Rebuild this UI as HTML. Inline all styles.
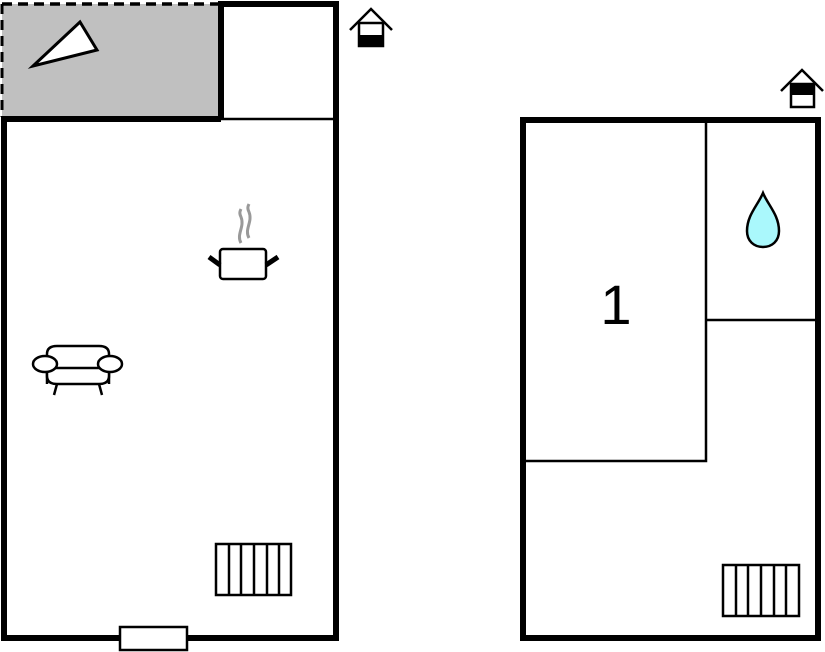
<!DOCTYPE html>
<html><head><meta charset="utf-8"><style>html,body{margin:0;padding:0;background:#fff}svg{display:block}</style></head>
<body>
<svg width="825" height="652" viewBox="0 0 825 652" xmlns="http://www.w3.org/2000/svg">
<rect x="2" y="4" width="220" height="115" fill="#c0c0c0"/>
<line x1="2" y1="4" x2="221" y2="4" stroke="#000" stroke-width="3.5" stroke-dasharray="10,6"/>
<line x1="2" y1="4" x2="2" y2="117" stroke="#000" stroke-width="3" stroke-dasharray="10,6"/>
<polygon points="33,66 80,22 97,50" fill="#fff" stroke="#000" stroke-width="3" stroke-linejoin="miter"/>
<g stroke="#000" stroke-width="6" fill="none">
<polyline points="221,119 221,4 336,4 336,638 4,638 4,119 221,119"/>
</g>
<line x1="221" y1="119" x2="336" y2="119" stroke="#000" stroke-width="2.5"/>
<rect x="120" y="627" width="67" height="23" fill="#fff" stroke="#000" stroke-width="2.5"/>
<g fill="#fff" stroke="#000" stroke-width="2.5">
<rect x="216" y="544" width="75" height="51"/>
<line x1="229" y1="544" x2="229" y2="595"/><line x1="241" y1="544" x2="241" y2="595"/>
<line x1="254" y1="544" x2="254" y2="595"/><line x1="267" y1="544" x2="267" y2="595"/>
<line x1="279" y1="544" x2="279" y2="595"/>
</g>
<path d="M241,243 c-5,-9 4,-16 0,-26 c-2,-4 -1,-6 0,-8 M249,238 c-5,-9 4,-16 0,-26 c-2,-4 -1,-6 0,-8" stroke="#999" stroke-width="3" fill="none"/>
<rect x="220" y="249" width="46" height="30" rx="3" fill="#fff" stroke="#000" stroke-width="2.5"/>
<line x1="209" y1="257" x2="220" y2="265" stroke="#000" stroke-width="5"/>
<line x1="266" y1="265" x2="278" y2="257" stroke="#000" stroke-width="5"/>
<g fill="#fff" stroke="#000" stroke-width="2.5">
<path d="M47,384 v-30 q0,-8 10,-8 h42 q10,0 10,8 v30"/>
<path d="M47,368 v8 q0,8 10,8 h42 q10,0 10,-8 v-8"/>
<line x1="53" y1="368" x2="103" y2="368"/>
<ellipse cx="45" cy="364" rx="12" ry="8"/>
<ellipse cx="110" cy="364" rx="12" ry="8"/>
<line x1="57" y1="384" x2="54" y2="395"/><line x1="99" y1="384" x2="102" y2="395"/>
</g>
<polyline points="350,30 371,9 392,30" fill="none" stroke="#000" stroke-width="2.5"/>
<rect x="359" y="23" width="24" height="23" fill="#fff" stroke="#000" stroke-width="2.5"/>
<rect x="359" y="35" width="24" height="12" fill="#000"/>
<rect x="523" y="120" width="295" height="518" fill="none" stroke="#000" stroke-width="6"/>
<g stroke="#000" stroke-width="2.5" fill="none">
<polyline points="523,461 706,461 706,120"/>
<line x1="706" y1="320" x2="818" y2="320"/>
</g>
<text x="616" y="324" font-family="Liberation Sans, sans-serif" font-size="56" text-anchor="middle" fill="#000">1</text>
<path d="M763,193 C758,205 747,215 747,231 C747,241 754,247 763,247 C772,247 779,241 779,231 C779,215 768,205 763,193 Z" fill="#aaf8fc" stroke="#000" stroke-width="2.5"/>
<g fill="#fff" stroke="#000" stroke-width="2.5">
<rect x="723" y="565" width="76" height="51"/>
<line x1="736" y1="565" x2="736" y2="616"/><line x1="748" y1="565" x2="748" y2="616"/>
<line x1="761" y1="565" x2="761" y2="616"/><line x1="774" y1="565" x2="774" y2="616"/>
<line x1="786" y1="565" x2="786" y2="616"/>
</g>
<polyline points="781,91 802,70 823,91" fill="none" stroke="#000" stroke-width="2.5"/>
<rect x="791" y="84" width="23" height="23" fill="#fff" stroke="#000" stroke-width="2.5"/>
<rect x="791" y="84" width="23" height="11" fill="#000"/>
</svg>
</body></html>
